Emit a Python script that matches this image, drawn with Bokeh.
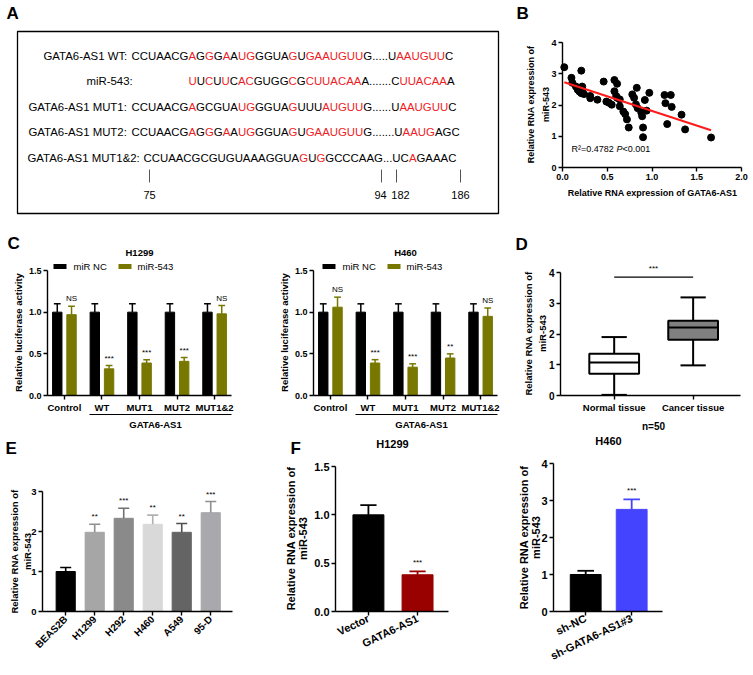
import math
from bokeh.plotting import figure
from bokeh.models import (Range1d, FixedTicker, Label, LabelSet, ColumnDataSource,
                          Arrow, PrintfTickFormatter)
from bokeh.layouts import row, column
from bokeh.embed import file_html
from bokeh.resources import INLINE
from bokeh.core.properties import value

FONT = "Liberation Sans"
RED = "#ee1c25"
OLIVE = "#787800"

# ---------------- data ----------------
# Panel A : sequences (k = black, r = red)
a_labels = ["GATA6-AS1 WT:", "miR-543:", "GATA6-AS1 MUT1:", "GATA6-AS1 MUT2:", "GATA6-AS1 MUT1&2:"]
a_segments = [
    [("CCUAACG", "k"), ("A", "r"), ("G", "k"), ("G", "r"), ("G", "k"), ("A", "r"), ("A", "k"), ("UG", "r"),
     ("GGUA", "k"), ("G", "r"), ("U", "k"), ("GAAUGUU", "r"), ("G.....U", "k"), ("AAUGUU", "r"), ("C", "k")],
    [("U", "r"), ("U", "k"), ("C", "r"), ("U", "k"), ("U", "r"), ("C", "k"), ("AC", "r"), ("GUGG", "k"),
     ("C", "r"), ("G", "k"), ("CUUACAA", "r"), ("A.......C", "k"), ("UUACAA", "r"), ("A", "k")],
    [("CCUAACG", "k"), ("A", "r"), ("GCGUA", "k"), ("UG", "r"), ("GGUA", "k"), ("G", "r"), ("UUU", "k"),
     ("AUGUU", "r"), ("G......U", "k"), ("AAUGUU", "r"), ("C", "k")],
    [("CCUAACG", "k"), ("A", "r"), ("G", "k"), ("G", "r"), ("G", "k"), ("A", "r"), ("A", "k"), ("UG", "r"),
     ("GGUA", "k"), ("G", "r"), ("U", "k"), ("GAAUGUU", "r"), ("G.......U", "k"), ("AAUG", "r"), ("AGC", "k")],
    [("CCUAACGCGUGUAAAGGUA", "k"), ("G", "r"), ("U", "k"), ("G", "r"), ("GCCCAAG...UC", "k"), ("A", "r"),
     ("GAAAC", "k")],
]
a_marks = ["75", "94", "182", "186"]

# Panel B : scatter
b_x = [0.02, 0.10, 0.11, 0.21, 0.15, 0.17, 0.19, 0.22, 0.22, 0.24, 0.21, 0.31, 0.31, 0.39, 0.46, 0.49, 0.52,
       0.55, 0.58, 0.61, 0.58, 0.60, 0.61, 0.64, 0.64, 0.68, 0.70, 0.72, 0.74, 0.78, 0.80, 0.83, 0.82, 0.84,
       0.88, 0.89, 0.90, 0.90, 0.92, 0.94, 0.97, 1.14, 1.15, 1.21, 1.22, 1.17, 1.33, 1.37, 1.66]
b_y = [3.21, 2.87, 2.71, 3.10, 2.59, 2.49, 2.43, 2.59, 2.49, 2.35, 2.38, 2.29, 2.22, 2.17, 2.75, 2.11, 2.07,
       2.01, 2.80, 2.68, 2.44, 2.29, 2.23, 2.18, 1.96, 1.79, 1.71, 1.54, 1.28, 2.34, 2.23, 2.55, 2.02, 1.90,
       1.76, 1.64, 1.28, 0.97, 2.16, 1.82, 2.39, 2.32, 2.06, 2.32, 1.94, 1.39, 1.69, 1.22, 0.96]
b_fit_x = [0.02, 1.66]
b_fit_y = [2.73, 1.19]
b_xticks = [0, 0.5, 1.0, 1.5, 2.0]
b_yticks = [0, 1, 2, 3, 4]

# Panel C : luciferase
c_groups = ["Control", "WT", "MUT1", "MUT2", "MUT1&2"]
c_series = ["miR NC", "miR-543"]
c1_nc = [1.0, 1.0, 1.0, 1.0, 1.0]
c1_nc_err = [0.10, 0.10, 0.10, 0.10, 0.10]
c1_mir = [0.97, 0.32, 0.39, 0.41, 0.98]
c1_mir_err = [0.10, 0.04, 0.04, 0.045, 0.10]
c1_sig = ["NS", "***", "***", "***", "NS"]
c2_nc = [1.0, 1.0, 1.0, 1.0, 1.0]
c2_nc_err = [0.10, 0.10, 0.10, 0.10, 0.10]
c2_mir = [1.06, 0.39, 0.34, 0.45, 0.95]
c2_mir_err = [0.12, 0.04, 0.04, 0.05, 0.10]
c2_sig = ["NS", "***", "***", "**", "NS"]
c_yticks = [0, 0.5, 1.0, 1.5]

# Panel D : box plot
d_groups = ["Normal tissue", "Cancer tissue"]
d_min = [0.02, 0.98]
d_q1 = [0.71, 1.81]
d_med = [1.07, 2.21]
d_q3 = [1.36, 2.43]
d_max = [1.90, 3.19]
d_fill = ["#ffffff", "#808080"]
d_sig_y = 3.85
d_yticks = [0, 1, 2, 3, 4]

# Panel E
e_lines = ["BEAS2B", "H1299", "H292", "H460", "A549", "95-D"]
e_vals = [1.0, 1.98, 2.33, 2.18, 1.98, 2.47]
e_err = [0.10, 0.20, 0.25, 0.23, 0.22, 0.28]
e_sig = ["", "**", "***", "**", "**", "***"]
e_colors = ["#000000", "#a6a6a6", "#8a8a8a", "#d9d9d9", "#646464", "#a8a8ad"]
e_err_colors = ["#000000", "#8f8f8f", "#707070", "#b0b0b0", "#505050", "#8f8f95"]
e_yticks = [0, 1, 2, 3]

# Panel F
f1_groups = ["Vector", "GATA6-AS1"]
f1_vals = [1.0, 0.38]
f1_err = [0.10, 0.035]
f1_sig = ["", "***"]
f1_colors = ["#000000", "#990000"]
f1_yticks = [0, 0.5, 1.0, 1.5]
f2_groups = ["sh-NC", "sh-GATA6-AS1#3"]
f2_vals = [1.0, 2.76]
f2_err = [0.10, 0.27]
f2_sig = ["", "***"]
f2_colors = ["#000000", "#4444ff"]
f2_yticks = [0, 1, 2, 3, 4]


# ---------------- helpers ----------------
class Panel:
    """Figure whose frame is the whole canvas; axes sit at fixed locations."""
    def __init__(self, X0, Y0, W, H, fx0, fx1, fy0, fy1, xr, yr):
        self.X0, self.Y0, self.W, self.H = X0, Y0, W, H
        self.sx = (xr[1] - xr[0]) / (fx1 - fx0)
        self.sy = (yr[1] - yr[0]) / (fy1 - fy0)
        self.x_start = xr[0] - (fx0 - X0) * self.sx
        x_end = xr[1] + (X0 + W - fx1) * self.sx
        self.y_start = yr[0] - (Y0 + H - fy1) * self.sy
        y_end = yr[1] + (fy0 - Y0) * self.sy
        self.xr, self.yr = xr, yr
        p = figure(width=W, height=H, x_range=Range1d(self.x_start, x_end),
                   y_range=Range1d(self.y_start, y_end), output_backend="svg",
                   toolbar_location=None, min_border=0)
        p.outline_line_color = None
        p.xgrid.visible = False
        p.ygrid.visible = False
        p.background_fill_color = "white"
        p.border_fill_color = "white"
        self.p = p

    def dx(self, ix):
        return self.x_start + (ix - self.X0) * self.sx

    def dy(self, iy):
        return self.y_start + (self.Y0 + self.H - iy) * self.sy

    def text(self, ix, iy, t, fs, style="normal", align="left", baseline="middle", angle=0.0, color="black"):
        self.p.add_layout(Label(x=self.dx(ix), y=self.dy(iy), text=t, text_font=FONT,
                                text_font_size=f"{fs}px", text_font_style=style, text_align=align,
                                text_baseline=baseline, angle=angle, text_color=color))

    def hline(self, ix0, ix1, iy, lw, color="black"):
        self.p.add_layout(Arrow(start=None, end=None, x_start=self.dx(ix0), y_start=self.dy(iy),
                                x_end=self.dx(ix1), y_end=self.dy(iy), line_width=lw, line_color=color))

    def axes(self, xticks, yticks, xfs, yfs, xlabels=None, xfmt=None, yfmt=None, xorient=None):
        p = self.p
        xa, ya = p.xaxis[0], p.yaxis[0]
        xa.fixed_location = self.yr[0]
        xa.bounds = self.xr
        ya.fixed_location = self.xr[0]
        ya.bounds = self.yr
        for ax in (xa, ya):
            ax.axis_line_color = "black"
            ax.axis_line_width = 1.4
            ax.major_tick_line_color = "black"
            ax.major_tick_line_width = 1.4
            ax.major_tick_in = 0
            ax.major_tick_out = 4
            ax.minor_tick_line_color = None
            ax.major_label_text_font = FONT
            ax.major_label_text_font_style = "bold"
            ax.major_label_text_color = "black"
            ax.major_label_standoff = 2
        xa.ticker = FixedTicker(ticks=xticks)
        ya.ticker = FixedTicker(ticks=yticks)
        xa.major_label_text_font_size = f"{xfs}px"
        ya.major_label_text_font_size = f"{yfs}px"
        if xlabels is not None:
            xa.major_label_overrides = {i: s for i, s in enumerate(xlabels)}
        if xfmt:
            xa.formatter = PrintfTickFormatter(format=xfmt)
        if yfmt:
            ya.formatter = PrintfTickFormatter(format=yfmt)
        if xorient is not None:
            xa.major_label_orientation = xorient


def errbars(P, xs, tops, errs, cap, colors, lw=1.5):
    ytop = [t + e for t, e in zip(tops, errs)]
    P.p.segment(x0=xs, y0=tops, x1=xs, y1=ytop, line_color=colors, line_width=lw)
    P.p.segment(x0=[x - cap / 2 for x in xs], y0=ytop, x1=[x + cap / 2 for x in xs], y1=ytop,
                line_color=colors, line_width=lw)


def sig_labels(P, xs, tops, errs, sigs, fs, off=2):
    src = ColumnDataSource(dict(x=xs, y=[t + e for t, e in zip(tops, errs)], t=sigs))
    P.p.add_layout(LabelSet(x="x", y="y", text="t", source=src, y_offset=off, text_align="center",
                            text_baseline="bottom", text_font=value(FONT),
                            text_font_size=f"{fs}px", text_color="black"))


def ytitle(P, ix1, ix2, iy, fs, line1="Relative RNA expression of", line2="miR-543"):
    P.text(ix1, iy, line1, fs, "bold", "center", "middle", math.pi / 2)
    if line2:
        P.text(ix2, iy, line2, fs, "bold", "center", "middle", math.pi / 2)


# ---------------- Panel A ----------------
W = {'A': 667, 'C': 722, 'G': 778, 'U': 722, 'T': 611, 'W': 944, 'M': 833, 'S': 667, 'R': 722,
     'm': 833, 'i': 222, '-': 333, ':': 278, ' ': 278, '.': 278, '&': 667}
for d in "0123456789":
    W[d] = 556
FS_A = 11.4


def tw(s):
    return sum(W[c] for c in s) * FS_A / 1000.0


pa = figure(width=505, height=228, x_range=Range1d(0, 505), y_range=Range1d(228, 0),
            output_backend="svg", toolbar_location=None, min_border=0,
            x_axis_location=None, y_axis_location=None)
pa.outline_line_color = None
pa.xgrid.visible = False
pa.ygrid.visible = False
pa.quad(left=17, right=498, top=31, bottom=213, fill_color=None, line_color="black", line_width=1.3)

a_label_x = [43, 86, 28, 28, 27]
a_seq_x = [131, 188, 131, 131, 143]
a_row_y = [55, 80, 106, 131, 157]
tx, ty, tt, tc = [], [], [], []
for lab, lx, sx, ry, segs in zip(a_labels, a_label_x, a_seq_x, a_row_y, a_segments):
    tx.append(lx); ty.append(ry); tt.append(lab); tc.append("black")
    cx = sx
    for s, c in segs:
        tx.append(cx); ty.append(ry); tt.append(s); tc.append(RED if c == "r" else "black")
        cx += tw(s)
pa.text(x=tx, y=ty, text=tt, text_color=tc, text_font=value(FONT), text_font_size=f"{FS_A}px",
        text_align="left", text_baseline="middle")
a_tick_x = [149, 381, 396, 460]
a_mark_lx = [149, 380, 400, 460]
pa.segment(x0=a_tick_x, y0=[169] * 4, x1=a_tick_x, y1=[182] * 4, line_color="#555555", line_width=1)
pa.text(x=a_mark_lx, y=[194] * 4, text=a_marks, text_font=value(FONT), text_font_size="11px",
        text_align="center", text_baseline="middle", text_color="black")
pa.text(x=[6], y=[13], text=["A"], text_font=value(FONT), text_font_size="17px", text_font_style="bold",
        text_align="left", text_baseline="middle", text_color="black")

# ---------------- Panel B ----------------
PB = Panel(505, 0, 247, 228, 562, 741, 42, 167, (0, 2), (0, 4))
PB.p.scatter(b_x, b_y, size=7, color="black")
PB.p.line(b_fit_x, b_fit_y, line_color="#ff1a1a", line_width=2)
PB.axes(b_xticks, b_yticks, 9, 9, xfmt="%.1f")
PB.text(516, 13, "B", 17, "bold")
ytitle(PB, 530, 545, 104, 9)
PB.text(652, 192, "Relative RNA expression of GATA6-AS1", 9, "bold", "center")
PB.text(571, 148, "R\u00b2=0.4782", 9)
PB.text(616, 148, "P", 9, "italic")
PB.text(622, 148, "<0.001", 9)


# ---------------- Panel C ----------------
def panel_c(x0, w, fx0, title, nc, nc_err, mir, mir_err, sig, leg, letter=None):
    P = Panel(x0, 228, w, 205, fx0, fx0 + 184, 270, 395, (-0.45, 4.45), (0, 1.5))
    xs = list(range(len(c_groups)))
    xa = [x - 0.19 for x in xs]
    xb = [x + 0.19 for x in xs]
    P.p.vbar(x=xa, top=nc, width=0.25, color="black")
    P.p.vbar(x=xb, top=mir, width=0.25, color=OLIVE)
    errbars(P, xa, nc, nc_err, 0.18, "black", 1.5)
    errbars(P, xb, mir, mir_err, 0.18, OLIVE, 1.5)
    sig_labels(P, xb, mir, mir_err, sig, 8, 3)
    P.axes(xs, c_yticks, 9.5, 9, xlabels=c_groups, yfmt="%.1f")
    ytitle(P, fx0 - 29, None, 332, 9.5, "Relative luciferase activity", None)
    P.text(fx0 + 92, 252, title, 9.5, "bold", "center")
    lx = fx0 + leg
    P.hline(lx, lx + 13, 266, 5, "black")
    P.text(lx + 20, 266, c_series[0], 9.5)
    P.hline(lx + 65, lx + 78, 266, 5, OLIVE)
    P.text(lx + 84, 266, c_series[1], 9.5)
    P.hline(fx0 + 42, fx0 + 184, 414, 1)
    P.text(fx0 + 108, 424, "GATA6-AS1", 9.5, "bold", "center")
    if letter:
        P.text(7, 243, letter, 17, "bold")
    return P


PC1 = panel_c(0, 245, 47, "H1299", c1_nc, c1_nc_err, c1_mir, c1_mir_err, c1_sig, 6, "C")
PC2 = panel_c(245, 260, 313, "H460", c2_nc, c2_nc_err, c2_mir, c2_mir_err, c2_sig, 9)

# ---------------- Panel D ----------------
PD = Panel(505, 228, 247, 205, 560, 740, 272, 395, (-0.68, 1.6), (0, 4))
dx = list(range(len(d_groups)))
PD.p.segment(x0=dx, y0=d_q3, x1=dx, y1=d_max, line_color="black", line_width=2)
PD.p.segment(x0=dx, y0=d_min, x1=dx, y1=d_q1, line_color="black", line_width=2)
PD.p.segment(x0=[x - 0.16 for x in dx], y0=d_max, x1=[x + 0.16 for x in dx], y1=d_max,
             line_color="black", line_width=2)
PD.p.segment(x0=[x - 0.16 for x in dx], y0=d_min, x1=[x + 0.16 for x in dx], y1=d_min,
             line_color="black", line_width=2)
PD.p.vbar(x=dx, bottom=d_q1, top=d_q3, width=0.63, fill_color=d_fill, line_color="black", line_width=2)
PD.p.segment(x0=[x - 0.315 for x in dx], y0=d_med, x1=[x + 0.315 for x in dx], y1=d_med,
             line_color="black", line_width=2)
PD.p.segment(x0=[dx[0]], y0=[d_sig_y], x1=[dx[1]], y1=[d_sig_y], line_color="black", line_width=1.3)
PD.axes(dx, d_yticks, 9.5, 10, xlabels=d_groups)
PD.text(653, 268, "***", 8, "normal", "center")
ytitle(PD, 528, 542, 333, 9.5)
PD.text(653, 426, "n=50", 10, "bold", "center")
PD.text(515, 244, "D", 17, "bold")

# ---------------- Panel E ----------------
PE = Panel(0, 433, 270, 241, 42, 232, 491, 611, (-0.8, 5.75), (0, 3))
ex = list(range(len(e_lines)))
PE.p.vbar(x=ex, top=e_vals, width=0.66, color=e_colors)
errbars(PE, ex, e_vals, e_err, 0.38, e_err_colors, 1.6)
sig_labels(PE, ex, e_vals, e_err, e_sig, 8, 3)
PE.axes(ex, e_yticks, 10, 9.5, xlabels=e_lines, xorient=math.pi / 4)
ytitle(PE, 14, 27, 551, 9.5)
PE.text(5, 448, "E", 17, "bold")

# ---------------- Panel F ----------------
PF1 = Panel(270, 433, 210, 241, 335, 448, 466, 611, (-0.67, 1.63), (0, 1.5))
fx1 = list(range(len(f1_groups)))
PF1.p.vbar(x=fx1, top=f1_vals, width=0.63, color=f1_colors)
errbars(PF1, fx1, f1_vals, f1_err, 0.33, f1_colors, 1.8)
sig_labels(PF1, fx1, f1_vals, f1_err, f1_sig, 8, 4)
PF1.axes(fx1, f1_yticks, 11, 11, xlabels=f1_groups, yfmt="%.1f", xorient=0.45)
ytitle(PF1, 290, 302, 538, 11)
PF1.text(392, 443, "H1299", 11, "bold", "center")
PF1.text(290, 448, "F", 17, "bold")

PF2 = Panel(480, 433, 272, 241, 553, 662, 463, 611, (-0.7, 1.67), (0, 4))
fx2 = list(range(len(f2_groups)))
PF2.p.vbar(x=fx2, top=f2_vals, width=0.67, color=f2_colors)
errbars(PF2, fx2, f2_vals, f2_err, 0.36, f2_colors, 1.8)
sig_labels(PF2, fx2, f2_vals, f2_err, f2_sig, 8, 4)
PF2.axes(fx2, f2_yticks, 11, 11, xlabels=f2_groups, xorient=0.45)
ytitle(PF2, 523, 535, 537, 11)
PF2.text(608, 440, "H460", 11, "bold", "center")

layout = column(row(pa, PB.p), row(PC1.p, PC2.p, PD.p), row(PE.p, PF1.p, PF2.p))
open("out.html", "w").write(file_html(layout, INLINE))
